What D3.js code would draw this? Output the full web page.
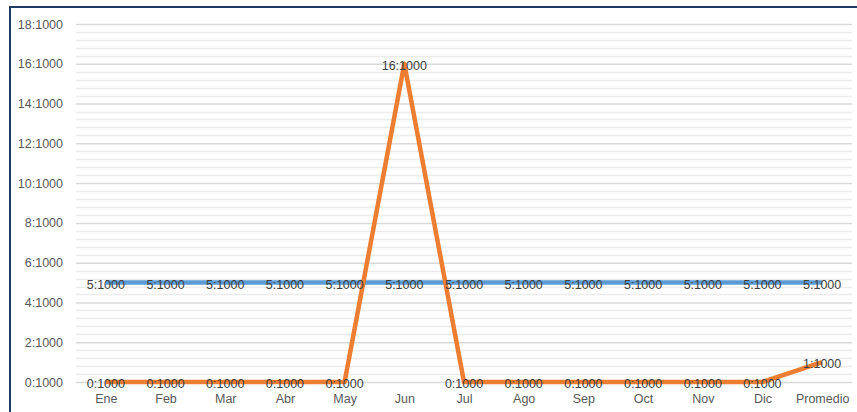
<!DOCTYPE html>
<html>
<head>
<meta charset="utf-8">
<script src="https://cdn.jsdelivr.net/npm/d3@7"></script>
<style>
body { margin: 0; background: #fff; }
text { font-family: "Liberation Sans", Arial, sans-serif; }
</style>
</head>
<body>
<div id="chart"></div>
<script>
var categories = ["Ene", "Feb", "Mar", "Abr", "May", "Jun", "Jul", "Ago", "Sep", "Oct", "Nov", "Dic", "Promedio"];
var seriesBlue = [5, 5, 5, 5, 5, 5, 5, 5, 5, 5, 5, 5, 5];
var seriesOrange = [0, 0, 0, 0, 0, 16, 0, 0, 0, 0, 0, 0, 1];
var yTicks = [0, 2, 4, 6, 8, 10, 12, 14, 16, 18];

var width = 857, height = 412;
var plot = { left: 76, right: 852, top: 24, bottom: 382 };

var svg = d3.select("#chart").append("svg")
	.attr("width", width)
	.attr("height", height);

// outer frame, runs off the right and bottom edge like the screenshot
svg.append("rect")
	.attr("x", 10).attr("y", 7)
	.attr("width", 900).attr("height", 450)
	.attr("fill", "none")
	.attr("stroke", "#1f3864")
	.attr("stroke-width", 2);

var x = d3.scalePoint()
	.domain(categories)
	.range([plot.left, plot.right])
	.padding(0.5);

var y = d3.scaleLinear()
	.domain([0, 18])
	.range([plot.bottom, plot.top]);

// minor grid every 0.4
var minor = d3.range(0, 18.001, 0.4).filter(function(v){ return Math.abs(v / 2 - Math.round(v / 2)) > 0.01; });
svg.append("g").selectAll("line")
	.data(minor)
	.enter().append("line")
	.attr("x1", plot.left).attr("x2", plot.right)
	.attr("y1", function(d){ return Math.round(y(d)) + 0.5; })
	.attr("y2", function(d){ return Math.round(y(d)) + 0.5; })
	.attr("stroke", "#ececec")
	.attr("stroke-width", 1.5);

// major grid + y labels via axis
var yAxis = d3.axisLeft(y)
	.tickValues(yTicks)
	.tickSize(-(plot.right - plot.left))
	.tickPadding(13)
	.tickFormat(function(d){ return d + ":1000"; });

var gy = svg.append("g")
	.attr("transform", "translate(" + plot.left + ",0)")
	.call(yAxis);
gy.select(".domain").remove();
gy.selectAll("line").attr("stroke", "#d9d9d9").attr("stroke-width", 1.5);
gy.selectAll("text").attr("fill", "#595959").style("font-size", "12.5px");

var xAxis = d3.axisBottom(x).tickSize(0).tickPadding(12);
var gx = svg.append("g")
	.attr("transform", "translate(0," + plot.bottom + ")")
	.call(xAxis);
gx.select(".domain").remove();
gx.selectAll("text").attr("fill", "#595959").style("font-size", "12.5px");

var line = d3.line()
	.x(function(d, i){ return x(categories[i]); })
	.y(function(d){ return y(d); });

svg.append("path")
	.datum(seriesBlue)
	.attr("d", line)
	.attr("fill", "none")
	.attr("stroke", "#5b9bd5")
	.attr("stroke-width", 4.5)
	.attr("stroke-linejoin", "round");

svg.append("path")
	.datum(seriesOrange)
	.attr("d", line)
	.attr("fill", "none")
	.attr("stroke", "#ed7d31")
	.attr("stroke-width", 4.5)
	.attr("stroke-linejoin", "round");

// data labels, centred on each point
function addLabels(data){
	svg.append("g").selectAll("text")
		.data(data)
		.enter().append("text")
		.attr("x", function(d, i){ return x(categories[i]); })
		.attr("y", function(d){ return y(d) + 6; })
		.attr("text-anchor", "middle")
		.attr("fill", "#404040")
		.style("font-size", "12.5px")
		.text(function(d){ return d + ":1000"; });
}
addLabels(seriesBlue);
addLabels(seriesOrange);
</script>
</body>
</html>
